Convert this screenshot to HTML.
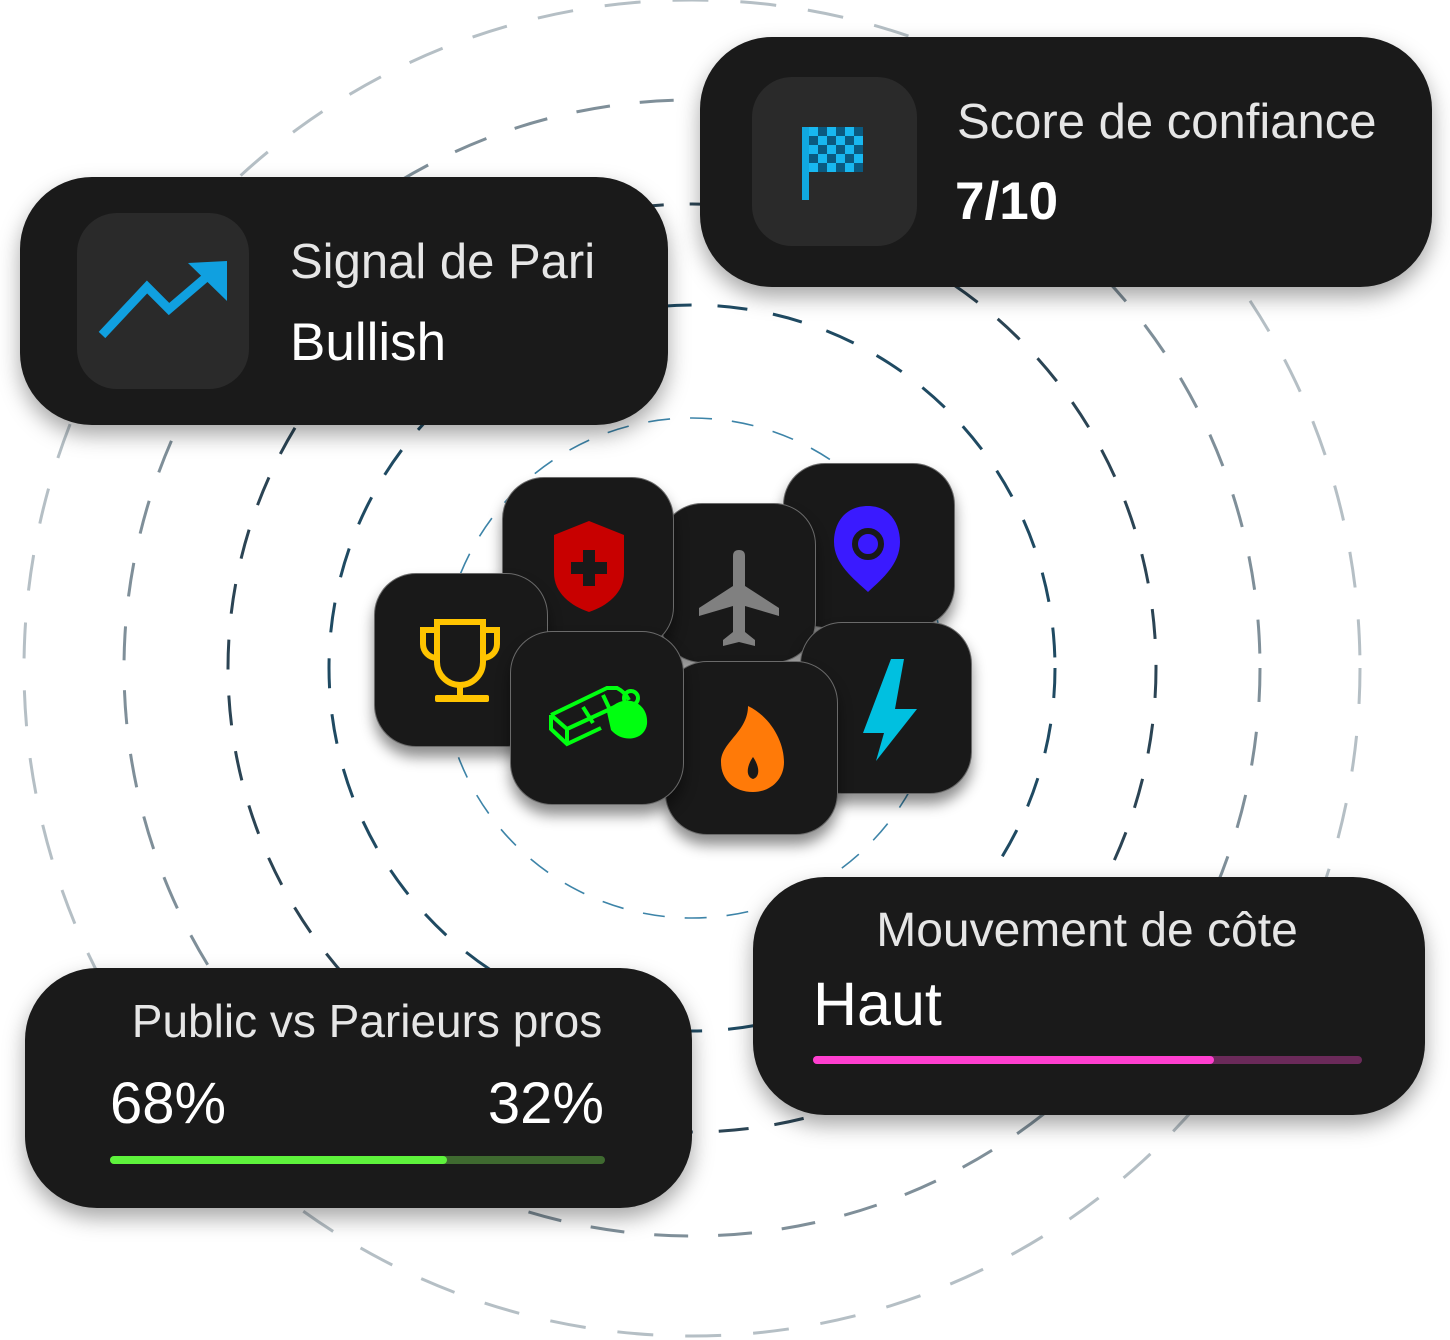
<!DOCTYPE html>
<html><head><meta charset="utf-8">
<style>
html,body{margin:0;padding:0;background:#fff;}
#stage{position:relative;width:1450px;height:1340px;overflow:hidden;font-family:"Liberation Sans",sans-serif;}
svg.rings{position:absolute;left:0;top:0;}
.card{position:absolute;background:#1a1a1a;box-shadow:0 10px 22px rgba(0,0,0,.35);}
.ibox{position:absolute;background:#2a2a2a;border-radius:40px;}
.t{position:absolute;color:#e6e6e6;white-space:nowrap;}
.tile{position:absolute;width:172px;height:172px;border-radius:42px;background:#191919;border:1.5px solid #6a6a6a;box-sizing:border-box;box-shadow:0 10px 14px rgba(0,0,0,.45);}
.tile svg{position:absolute;left:0;top:0;}
.bar{position:absolute;height:8px;border-radius:4px;}
</style></head><body>
<div id="stage">
<svg class="rings" width="1450" height="1340"></svg>

<div class="card" style="left:700px;top:37px;width:732px;height:250px;border-radius:72px">
  <div class="ibox" style="left:52px;top:40px;width:165px;height:169px">
    <svg width="165" height="169">
      <rect x="50" y="50" width="7" height="73" fill="#10a8e0"/>
      <g id="chk"></g>
    </svg>
  </div>
  <div class="t" style="left:257px;top:57px;font-size:49px;font-weight:300">Score de confiance</div>
  <div class="t" style="left:255px;top:134px;font-size:53px;font-weight:bold;color:#fff">7/10</div>
</div>

<div class="card" style="left:20px;top:177px;width:648px;height:248px;border-radius:72px">
  <div class="ibox" style="left:57px;top:36px;width:172px;height:176px">
    <svg width="172" height="176">
      <polyline points="25,122 70,74 92,96 140,55" fill="none" stroke="#10a0e0" stroke-width="9"/>
      <polygon points="150,48 150,88 111,50" fill="#10a0e0"/>
    </svg>
  </div>
  <div class="t" style="left:270px;top:57px;font-size:49px;font-weight:300">Signal de Pari</div>
  <div class="t" style="left:270px;top:135px;font-size:53px;color:#fff">Bullish</div>
</div>

<div class="card" style="left:25px;top:968px;width:667px;height:240px;border-radius:72px">
  <div class="t" style="left:0;width:684px;text-align:center;top:26px;font-size:46px;font-weight:300">Public vs Parieurs pros</div>
  <div class="t" style="left:85px;top:102px;font-size:58px;color:#fff" id="pubL">68%</div>
  <div class="t" style="right:88px;top:102px;font-size:58px;color:#fff" id="pubR">32%</div>
  <div class="bar" style="left:85px;top:188px;width:495px;background:#3f6a30"></div>
  <div class="bar" id="pubBar" style="left:85px;top:188px;background:#5ef23c"></div>
</div>

<div class="card" style="left:753px;top:877px;width:672px;height:238px;border-radius:72px">
  <div class="t" style="left:0;width:668px;text-align:center;top:26px;font-size:48px;font-weight:300">Mouvement de côte</div>
  <div class="t" style="left:60px;top:92px;font-size:61px;color:#fff">Haut</div>
  <div class="bar" style="left:60px;top:179px;width:549px;background:#6b2a5a"></div>
  <div class="bar" id="oddsBar" style="left:60px;top:179px;background:#ff3fcf"></div>
</div>

<div class="tile" style="left:783px;top:463px;height:165px">
  <svg width="172" height="165"><path d="M84,42 C60,42 50,60 50,78 C50,100 70,115 84,128 C98,115 116,100 116,78 C116,60 106,42 84,42Z" fill="#3a1aff"/><circle cx="84" cy="80" r="13" fill="none" stroke="#191919" stroke-width="6"/></svg>
</div>
<div class="tile" style="left:660px;top:503px;width:156px;height:160px">
  <svg width="156" height="160"><path d="M72,52 q0,-6 6,-6 q6,0 6,6 v30 l34,22 v8 l-34,-10 v26 l10,8 v6 l-16,-4 l-16,4 v-6 l10,-8 v-26 l-34,10 v-8 l34,-22z" fill="#808080"/></svg>
</div>
<div class="tile" style="left:502px;top:477px">
  <svg width="172" height="172"><path d="M86,43 L121,57 V95 C121,115 104,128 86,134 C68,128 51,115 51,95 V57Z" fill="#c80000"/><path d="M80,72 h12 v12 h12 v12 h-12 v12 h-12 v-12 h-12 v-12 h12z" fill="#191919"/></svg>
</div>
<div class="tile" style="left:374px;top:573px;width:174px;height:174px">
  <svg width="174" height="174"><g fill="none" stroke="#ffc400" stroke-width="6"><path d="M62,48 h46 v40 a23,23 0 0 1 -46,0z"/><path d="M62,56 h-14 v14 a14,14 0 0 0 14,14"/><path d="M108,56 h14 v14 a14,14 0 0 1 -14,14"/><line x1="85" y1="111" x2="85" y2="122"/></g><rect x="60" y="121" width="54" height="7" rx="2" fill="#ffc400"/></svg>
</div>
<div class="tile" style="left:800px;top:622px">
  <svg width="172" height="172"><path d="M90,36 L62,110 H83 L75,138 L116,86 H94 L103,36Z" fill="#00c0e0"/></svg>
</div>
<div class="tile" style="left:665px;top:661px;width:173px;height:174px">
  <svg width="173" height="174"><path d="M82,44 C105,55 118,80 118,100 C118,118 104,130 87,130 C68,130 55,118 55,100 C55,80 82,70 82,44Z" fill="#ff7a08"/><path d="M87,95 C80,105 80,115 87,117 C94,115 94,105 87,95Z" fill="#191919"/></svg>
</div>
<div class="tile" style="left:510px;top:631px;width:174px;height:174px">
  <svg width="174" height="174"><g fill="none" stroke="#00ff10" stroke-width="4"><path d="M40,83 L96,56 L106,56 Q114,60 118,68 M40,83 V97 L56,112 L90,96 M40,83 L56,97 V112 M56,97 L110,72 M72,75 L82,91 M92,63 L100,80"/><circle cx="120" cy="66" r="7"/></g><path d="M96,80 C110,60 138,68 136,92 C134,108 112,112 100,98Z" fill="#00ff10"/></svg>
</div>
</div>

<script>
// ring data
const ringRadii = [250, 363, 464, 568, 668];
const ringColors = ['#3d84a8', '#1f4a62', '#2b4454', '#7f8f99', '#b5bfc5'];
const ringWidths = [1.6, 3, 3, 3, 3];
const ringDash = [[22, 20], [30, 26], [30, 26], [34, 30], [36, 32]];
// bar data
const publicShare = [68, 32];
const oddsMovement = [73];

const cx = 692, cy = 668;
const svg = document.querySelector('svg.rings');
const NS = 'http://www.w3.org/2000/svg';
ringRadii.forEach((r, i) => {
  const c = document.createElementNS(NS, 'circle');
  c.setAttribute('cx', cx); c.setAttribute('cy', cy); c.setAttribute('r', r);
  c.setAttribute('fill', 'none'); c.setAttribute('stroke', ringColors[i]);
  c.setAttribute('stroke-width', ringWidths[i]);
  c.setAttribute('stroke-dasharray', ringDash[i].join(' '));
  
  
  svg.appendChild(c);
});

// checkered flag
const chk = document.getElementById('chk');
for (let row = 0; row < 5; row++) for (let col = 0; col < 6; col++) {
  const r = document.createElementNS(NS, 'rect');
  r.setAttribute('x', 57 + col * 9); r.setAttribute('y', 50 + row * 9);
  r.setAttribute('width', 9); r.setAttribute('height', 9);
  r.setAttribute('fill', (row + col) % 2 ? '#0a5a80' : '#18b8f0');
  chk.appendChild(r);
}

document.getElementById('pubL').textContent = publicShare[0] + '%';
document.getElementById('pubR').textContent = publicShare[1] + '%';
document.getElementById('pubBar').style.width = (495 * publicShare[0] / 100) + 'px';
document.getElementById('oddsBar').style.width = (549 * oddsMovement[0] / 100) + 'px';
</script>
</body></html>
